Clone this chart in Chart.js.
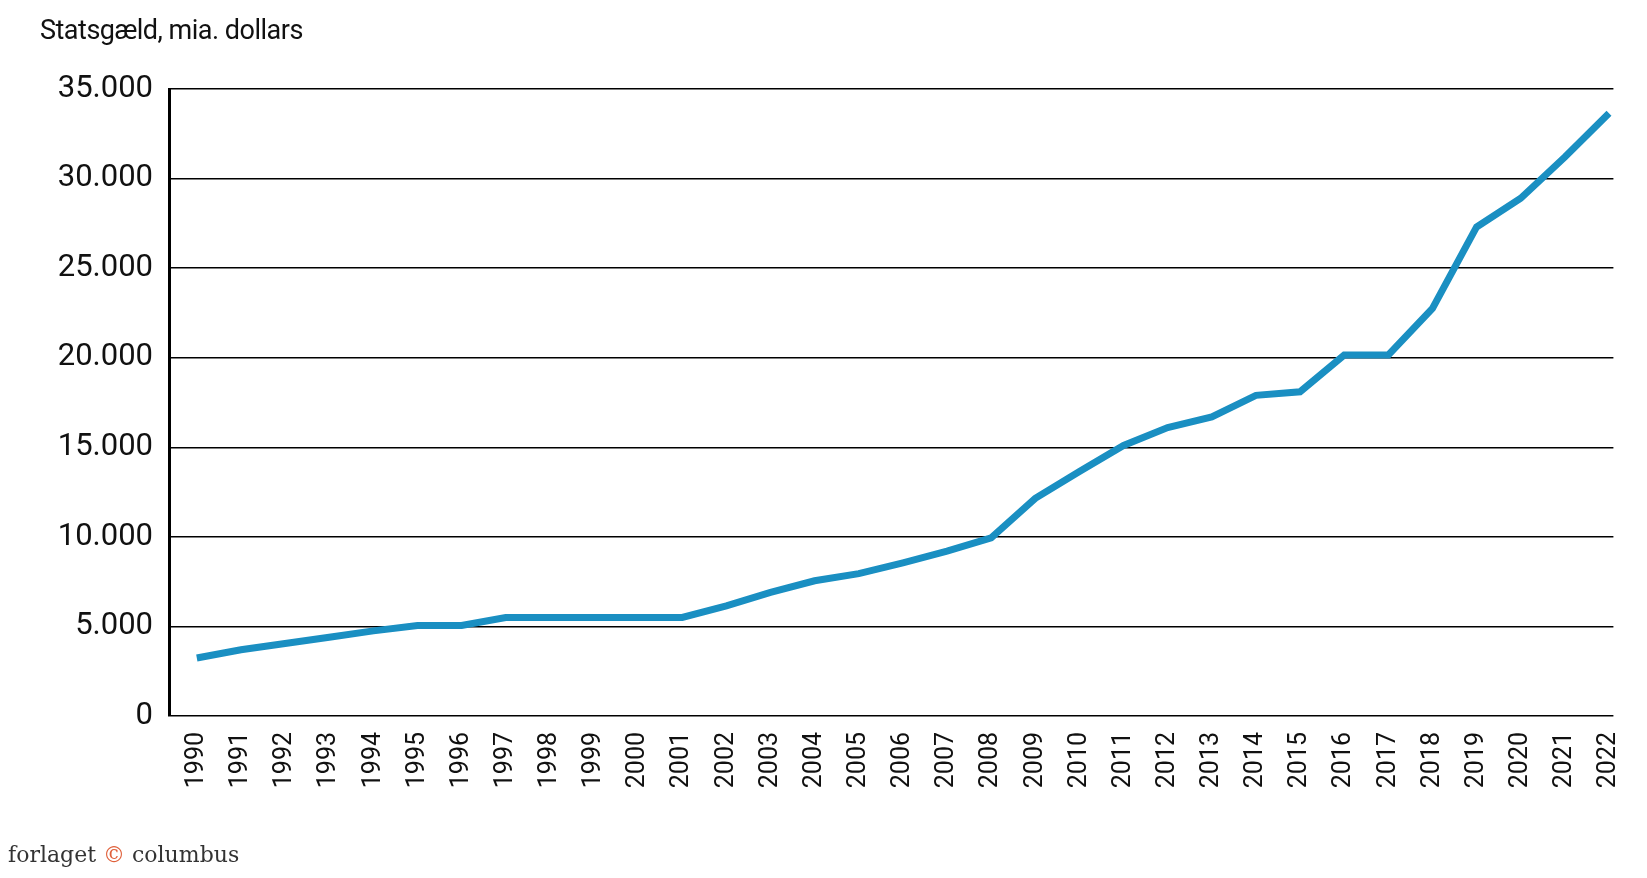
<!DOCTYPE html>
<html lang="da">
<head>
<meta charset="UTF-8">
<title>Statsgæld</title>
<script src="https://cdn.jsdelivr.net/npm/chart.js"></script>
<style>
  body { margin: 0; background: #fff; }
  #wrap { position: relative; width: 1647px; height: 878px; }
  #title { position: absolute; left: 40px; top: 14px; font: 27px "Roboto", sans-serif; color: #111; letter-spacing: -0.5px; }
  #footer { position: absolute; left: 8px; top: 842px; font: 22px "DejaVu Serif", "Liberation Serif", serif; color: #333; }
  #footer span { color: #e0603a; }
</style>
</head>
<body>
<div id="wrap">
  <canvas id="chart" width="1647" height="878"></canvas>
  <div id="title">Statsgæld, mia. dollars</div>
  <div id="footer">forlaget <span>©</span> columbus</div>
</div>
<script>
// Year-by-year debt, bn dollars
const years = [1990, 1991, 1992, 1993, 1994, 1995, 1996, 1997, 1998, 1999, 2000,
  2001, 2002, 2003, 2004, 2005, 2006, 2007, 2008, 2009, 2010, 2011, 2012, 2013,
  2014, 2015, 2016, 2017, 2018, 2019, 2020, 2021, 2022];
const debt = [3240, 3700, 4050, 4400, 4750, 5050, 5050, 5500, 5500, 5500, 5500,
  5500, 6150, 6900, 7550, 7950, 8550, 9200, 9950, 12150, 13650, 15100, 16100, 16700,
  17900, 18100, 20150, 20150, 22750, 27300, 28900, 31200, 33650];

const ctx = document.getElementById('chart').getContext('2d');
new Chart(ctx, {
  type: 'line',
  data: {
    datasets: [{
      data: years.map((y, i) => ({ x: y, y: debt[i] })),
      borderColor: '#1a8fc2',
      borderWidth: 7,
      pointRadius: 0,
      tension: 0,
      fill: false
    }]
  },
  options: {
    responsive: false,
    animation: false,
    layout: { padding: { top: 89, left: 0, right: 0, bottom: 62 } },
    plugins: { legend: { display: false }, tooltip: { enabled: false } },
    scales: {
      x: {
        type: 'linear',
        min: 1989.37,
        max: 2022.1,
        afterBuildTicks: axis => { axis.ticks = years.map(v => ({ value: v })); },
        afterFit: s => { s.height = 100; },
        grid: { display: false },
        border: { display: false },
        ticks: {
          callback: v => String(v),
          maxRotation: 90, minRotation: 90,
          autoSkip: false,
          color: '#111',
          font: { family: "Roboto, sans-serif", size: 25 },
          padding: 8
        }
      },
      y: {
        min: 0,
        max: 35000,
        afterFit: s => { s.width = 169; },
        ticks: {
          stepSize: 5000,
          color: '#111',
          callback: v => v.toLocaleString('da-DK'),
          font: { family: "Roboto, sans-serif", size: 31 },
          padding: 16
        },
        grid: { color: '#000', lineWidth: 1.5, drawTicks: false },
        border: { color: '#000', width: 3 }
      }
    }
  }
});
</script>
</body>
</html>
